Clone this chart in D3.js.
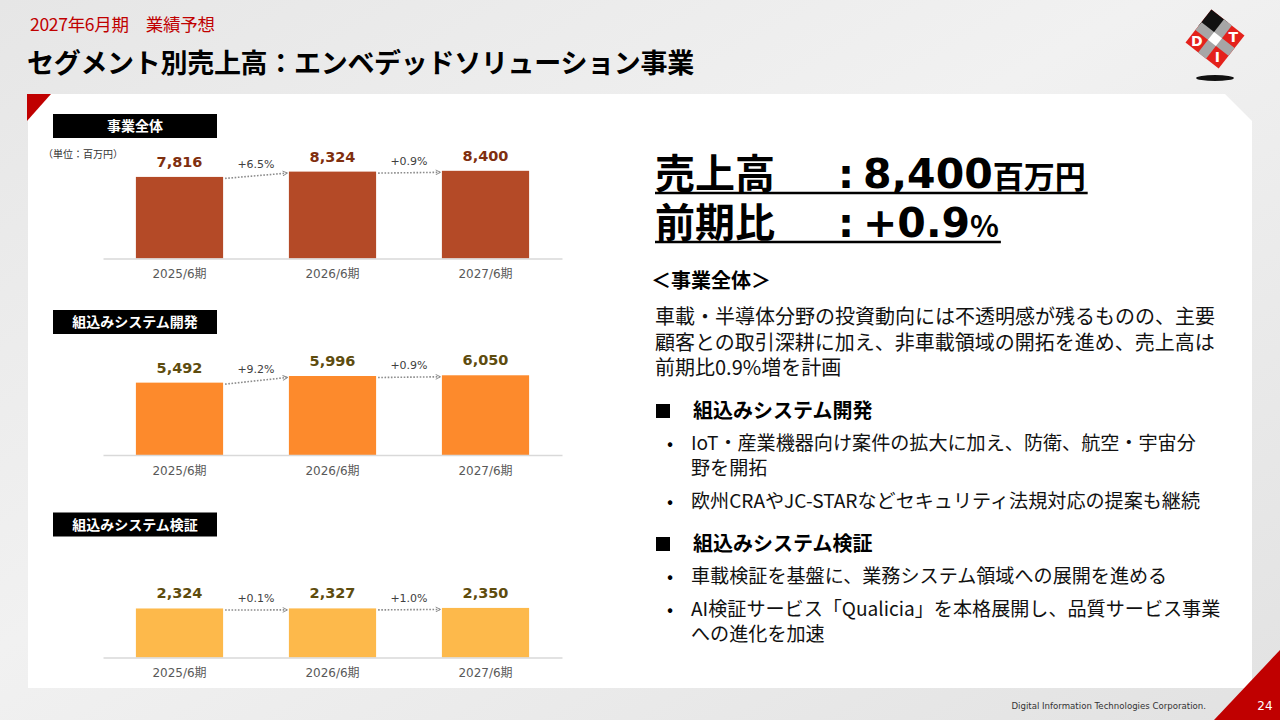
<!DOCTYPE html>
<html lang="ja">
<head>
<meta charset="utf-8">
<script src="https://cdn.jsdelivr.net/npm/d3@7"></script>
<style>
  html, body { margin:0; padding:0; background:#e9e9e9; }
  svg { display:block; }
</style>
</head>
<body>
<script>
// 決算期と各セグメントの売上高（単位：百万円）
const periods=["2025/6期", "2026/6期", "2027/6期"];
const segmentNames=["事業全体", "組込みシステム開発", "組込みシステム検証"];
const salesTotal=[7816, 8324, 8400];
const salesDev=[5492, 5996, 6050];
const salesVerify=[2324, 2327, 2350];
const growthTotal=["+6.5%", "+0.9%"];
const growthDev=["+9.2%", "+0.9%"];
const growthVerify=["+0.1%", "+1.0%"];

// 右側のテキスト
const headlineRows=[
    { label:"売上高", value:"8,400", unit:"百万円" },
    { label:"前期比", value:"+0.9", unit:"%" }
];
const summaryTitle="＜事業全体＞";
const summaryLines=[
    "車載・半導体分野の投資動向には不透明感が残るものの、主要",
    "顧客との取引深耕に加え、非車載領域の開拓を進め、売上高は",
    "前期比0.9%増を計画"
];
const devTitle="組込みシステム開発";
const devBullets=[
    ["IoT・産業機器向け案件の拡大に加え、防衛、航空・宇宙分", "野を開拓"],
    ["欧州CRAやJC-STARなどセキュリティ法規対応の提案も継続"]
];
const verifyTitle="組込みシステム検証";
const verifyBullets=[
    ["車載検証を基盤に、業務システム領域への展開を進める"],
    ["AI検証サービス「Qualicia」を本格展開し、品質サービス事業", "への進化を加速"]
];

const svgWidth=1280;
const svgHeight=720;
const jp="'Noto Sans CJK JP', sans-serif";
const num="'DejaVu Sans', 'Noto Sans CJK JP', sans-serif";

const svgTag=d3.select("body").append("svg")
    .attr("width", svgWidth).attr("height", svgHeight);

const defs=svgTag.append("defs");
const bg=defs.append("linearGradient").attr("id", "bg")
    .attr("x1", 0).attr("y1", 0).attr("x2", 1).attr("y2", 1);
bg.append("stop").attr("offset", "0%").attr("stop-color", "#e6e6e6");
bg.append("stop").attr("offset", "45%").attr("stop-color", "#f1f1f1");
bg.append("stop").attr("offset", "100%").attr("stop-color", "#e2e2e2");
defs.append("marker").attr("id", "arrowHead")
    .attr("viewBox", "0 0 10 10").attr("refX", 8).attr("refY", 5)
    .attr("markerWidth", 6).attr("markerHeight", 6)
    .attr("markerUnits", "userSpaceOnUse")
    .attr("orient", "auto")
    .append("path").attr("d", "M1,1 L9,5 L1,9").attr("fill", "none")
    .attr("stroke", "#8c8c8c").attr("stroke-width", 1.6);

drawFrame();
drawLogo();

// 各パネルの位置と色（baseline はグラフの底辺、yMax は縦軸の上限）
const panels=[
    { name:segmentNames[0], values:salesTotal, growth:growthTotal, boxY:114, baseline:258.5, yMax:9580, bar:"#b44a27", text:"#7f2f0e" },
    { name:segmentNames[1], values:salesDev, growth:growthDev, boxY:310, baseline:455, yMax:7590, bar:"#fd8a2c", text:"#5e4c0e" },
    { name:segmentNames[2], values:salesVerify, growth:growthVerify, boxY:512.5, baseline:657.5, yMax:4740, bar:"#fdb94b", text:"#5e4c0e" }
];
panels.forEach(drawPanel);

svgTag.append("text")
    .attr("x", 43).attr("y", 158)
    .attr("font-family", jp).attr("font-size", 10).attr("fill", "#333")
    .text("（単位：百万円）");

drawRightText();

/**
 * 背景、白いパネル、見出し、フッター
 */
function drawFrame() {
    svgTag.append("rect").attr("width", svgWidth).attr("height", svgHeight).attr("fill", "url(#bg)");
    svgTag.append("path")
        .attr("d", "M28,94 L1225,94 L1252,121 L1252,688 L28,688 Z")
        .attr("fill", "#fff");
    svgTag.append("path").attr("d", "M27,94 L51,94 L27,121 Z").attr("fill", "#c00000");
    svgTag.append("path").attr("d", "M1214,720 L1280,720 L1280,650 Z").attr("fill", "#c00000");

    svgTag.append("text")
        .attr("x", 30).attr("y", 31)
        .attr("font-family", jp).attr("font-size", 17.5).attr("fill", "#c00000")
        .attr("letter-spacing", -0.3)
        .text("2027年6月期　業績予想");
    svgTag.append("text")
        .attr("x", 27).attr("y", 73)
        .attr("font-family", jp).attr("font-size", 27).attr("font-weight", 700)
        .attr("fill", "#000").attr("letter-spacing", -0.3)
        .text("セグメント別売上高：エンベデッドソリューション事業");

    svgTag.append("text")
        .attr("x", 1206).attr("y", 709).attr("text-anchor", "end")
        .attr("font-family", "'DejaVu Sans', sans-serif").attr("font-size", 8.6).attr("fill", "#333")
        .text("Digital Information Technologies Corporation.");
    svgTag.append("text")
        .attr("x", 1265).attr("y", 710).attr("text-anchor", "middle")
        .attr("font-family", "'DejaVu Sans', sans-serif").attr("font-size", 12).attr("fill", "#fff")
        .text("24");
}

/**
 * 右上のロゴ（簡略化したキューブ）
 */
function drawLogo() {
    svgTag.append("ellipse")
        .attr("cx", 1215).attr("cy", 78).attr("rx", 19).attr("ry", 3)
        .attr("fill", "#111");
    const g=svgTag.append("g").attr("transform", "translate(1215,39) rotate(38)");
    const s=21;
    g.append("rect").attr("x", -s).attr("y", -s).attr("width", 2*s).attr("height", 2*s).attr("fill", "#e4211b");
    g.append("rect").attr("x", -s).attr("y", -s).attr("width", s).attr("height", s).attr("fill", "#111");
    g.append("rect").attr("x", -s).attr("y", -5).attr("width", 2*s).attr("height", 10).attr("fill", "#a6a6a6");
    g.append("rect").attr("x", -5).attr("y", -s).attr("width", 10).attr("height", 2*s).attr("fill", "#a6a6a6");
    g.append("rect").attr("x", -5).attr("y", -5).attr("width", 10).attr("height", 10).attr("fill", "#fff");
    [["D", -13, 13], ["I", 13, 13], ["T", 13, -13]].forEach(([t, x, y])=>{
        g.append("text")
            .attr("x", x).attr("y", y + 5).attr("text-anchor", "middle")
            .attr("font-family", num).attr("font-size", 14).attr("font-weight", 700)
            .attr("fill", "#fff").attr("transform", `rotate(-38,${x},${y})`)
            .text(t);
    });
}

/**
 * セグメント 1 つ分の棒グラフ
 */
function drawPanel(panel) {
    const g=svgTag.append("g");

    g.append("rect")
        .attr("x", 53).attr("y", panel.boxY).attr("width", 164).attr("height", 24)
        .attr("fill", "#000");
    g.append("text")
        .attr("x", 135).attr("y", panel.boxY + 17).attr("text-anchor", "middle")
        .attr("font-family", jp).attr("font-size", 14).attr("font-weight", 700).attr("fill", "#fff")
        .text(panel.name);

    const x=d3.scaleBand().domain(periods).range([103, 562])
        .paddingInner(0.43).paddingOuter(0.215);
    const y=d3.scaleLinear().domain([0, panel.yMax]).range([panel.baseline, panel.baseline - 100]);
    const rows=periods.map((p, i)=>({ period:p, value:panel.values[i] }));

    g.selectAll("rect.bar").data(rows).join("rect")
        .attr("class", "bar")
        .attr("x", d=>x(d.period)).attr("width", x.bandwidth())
        .attr("y", d=>y(d.value)).attr("height", d=>y(0) - y(d.value))
        .attr("fill", panel.bar);

    // 横軸
    const axis=g.append("g")
        .attr("transform", `translate(0,${panel.baseline})`)
        .call(d3.axisBottom(x).tickSize(0).tickPadding(11));
    axis.attr("font-size", null).attr("font-family", null);
    axis.select(".domain").attr("stroke", "#d9d9d9").attr("stroke-width", 1.3);
    axis.selectAll("text")
        .attr("font-family", num).attr("font-size", 12).attr("fill", "#595959");

    g.selectAll("text.value").data(rows).join("text")
        .attr("class", "value")
        .attr("x", d=>x(d.period) + x.bandwidth() / 2)
        .attr("y", d=>y(d.value) - 10)
        .attr("text-anchor", "middle")
        .attr("font-family", num).attr("font-size", 14.5).attr("font-weight", 700)
        .attr("fill", panel.text)
        .text(d=>d3.format(",")(d.value));

    // 前期比の矢印
    panel.growth.forEach((rate, i)=>{
        const x1=x(periods[i]) + x.bandwidth() + 2;
        const x2=x(periods[i + 1]) - 2;
        const y1=y(panel.values[i]) + 1.5;
        const y2=y(panel.values[i + 1]) + 1.5;
        g.append("line")
            .attr("x1", x1).attr("y1", y1).attr("x2", x2).attr("y2", y2)
            .attr("stroke", "#8c8c8c").attr("stroke-width", 1.6)
            .attr("stroke-dasharray", "1.6,1.6")
            .attr("marker-end", "url(#arrowHead)");
        g.append("text")
            .attr("x", (x1 + x2) / 2).attr("y", (y1 + y2) / 2 - 8)
            .attr("text-anchor", "middle")
            .attr("font-family", num).attr("font-size", 11).attr("fill", "#404040")
            .text(rate);
    });
}

/**
 * 右側の説明文
 */
function drawRightText() {
    const g=svgTag.append("g");
    const left=655;

    // 売上高・前期比は 1 つの text にまとめる
    const head=g.append("text")
        .attr("font-weight", 700).attr("fill", "#000");
    headlineRows.forEach((row, i)=>{
        const base=188 + i * 49;
        head.append("tspan")
            .attr("x", left).attr("y", base)
            .attr("font-family", jp).attr("font-size", 40)
            .text(row.label);
        head.append("tspan")
            .attr("x", 838).attr("y", base)
            .attr("font-family", num).attr("font-size", 40)
            .text(":");
        const v=head.append("tspan")
            .attr("x", 863).attr("y", base)
            .attr("font-family", num).attr("font-size", 41)
            .text(row.value);
        const u=head.append("tspan")
            .attr("font-family", jp).attr("font-size", i === 0 ? 31 : 30)
            .text(row.unit);
        const w=v.node().getComputedTextLength() + u.node().getComputedTextLength();
        g.append("line")
            .attr("x1", left).attr("x2", 863 + w + 2)
            .attr("y1", base + 5).attr("y2", base + 5)
            .attr("stroke", "#000").attr("stroke-width", 2.4);
    });

    g.append("text")
        .attr("x", left - 4).attr("y", 288)
        .attr("font-family", jp).attr("font-size", 20).attr("font-weight", 700)
        .text(summaryTitle);
    const summary=g.append("text")
        .attr("font-family", jp).attr("font-size", 20).attr("fill", "#111");
    summaryLines.forEach((line, i)=>{
        summary.append("tspan")
            .attr("x", left).attr("y", 324 + i * 25.5)
            .text(line);
    });

    drawSection(g, devTitle, devBullets, 418);
    drawSection(g, verifyTitle, verifyBullets, 551);
}

function drawSection(g, title, bullets, titleBase) {
    g.append("rect")
        .attr("x", 656).attr("y", titleBase - 14).attr("width", 14).attr("height", 14)
        .attr("fill", "#000");
    g.append("text")
        .attr("x", 693).attr("y", titleBase)
        .attr("font-family", jp).attr("font-size", 20).attr("font-weight", 700)
        .text(title);

    let base=titleBase + 32;
    bullets.forEach((lines)=>{
        g.append("text")
            .attr("x", 667).attr("y", base)
            .attr("font-family", jp).attr("font-size", 18).text("•");
        const item=g.append("text")
            .attr("font-family", jp).attr("font-size", 19.1).attr("fill", "#111");
        lines.forEach((line, j)=>{
            item.append("tspan")
                .attr("x", 691).attr("y", base + j * 25)
                .text(line);
        });
        base+=lines.length * 25 + 8;
    });
}
</script>
</body>
</html>
